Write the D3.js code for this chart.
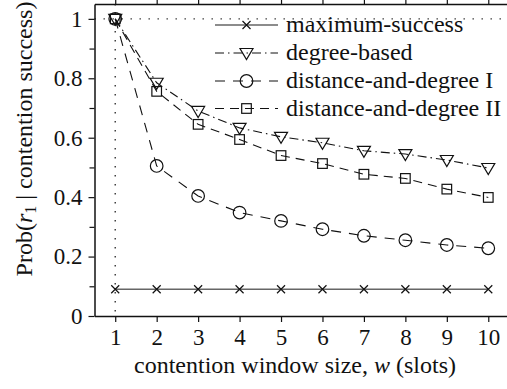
<!DOCTYPE html>
<html>
<head>
<meta charset="utf-8">
<script src="https://cdn.jsdelivr.net/npm/d3@7"></script>
<style>
  html, body { margin: 0; padding: 0; background: #fff; }
  svg { display: block; }
  text { font-family: "Liberation Serif", "Times New Roman", serif; fill: #111; }
</style>
</head>
<body>
<svg id="chart" width="507" height="389"></svg>
<script>
// ---- data ----
const windowSizes = [1, 2, 3, 4, 5, 6, 7, 8, 9, 10];
const maximumSuccess = [0.09, 0.09, 0.09, 0.09, 0.09, 0.09, 0.09, 0.09, 0.09, 0.09];
const degreeBased = [1.0, 0.785, 0.69, 0.633, 0.603, 0.583, 0.556, 0.545, 0.525, 0.498];
const distanceDegreeI = [1.0, 0.505, 0.404, 0.348, 0.32, 0.292, 0.27, 0.255, 0.239, 0.228];
const distanceDegreeII = [1.0, 0.756, 0.645, 0.594, 0.54, 0.513, 0.477, 0.463, 0.427, 0.399];
const seriesNames = ["maximum-success", "degree-based", "distance-and-degree I", "distance-and-degree II"];
const yTickValues = [0, 0.2, 0.4, 0.6, 0.8, 1];
const yMinorTickValues = [0.1, 0.3, 0.5, 0.7, 0.9];
const xTickValues = [1, 2, 3, 4, 5, 6, 7, 8, 9, 10];

const series = [
  { name: seriesNames[0], values: maximumSuccess, marker: "cross", dash: null, stroke: "#666", width: 1.6 },
  { name: seriesNames[1], values: degreeBased, marker: "triangle", dash: "9,4,1.5,4", stroke: "#111", width: 1.1 },
  { name: seriesNames[2], values: distanceDegreeI, marker: "circle", dash: "10,8", stroke: "#111", width: 1.1 },
  { name: seriesNames[3], values: distanceDegreeII, marker: "square", dash: "9,6", stroke: "#111", width: 1.1 }
];

const svg = d3.select("#chart");
const mLeft = 94.5, mRight = 509, mTop = 4, mBottom = 316;

const x = d3.scaleLinear().domain([0.5, 10.5]).range([mLeft, mRight]);
const y = d3.scaleLinear().domain([0, 1.05]).range([mBottom, mTop]);

// reference dotted lines
const g = svg.append("g");
g.append("line")
  .attr("x1", x(1)).attr("x2", x(1)).attr("y1", y(1.05)).attr("y2", y(0))
  .attr("stroke", "#333").attr("stroke-width", 1.4).attr("stroke-dasharray", "1.4,7.6");
g.append("line")
  .attr("x1", x(0.5)).attr("x2", x(10.5)).attr("y1", y(1)).attr("y2", y(1))
  .attr("stroke", "#333").attr("stroke-width", 1.4).attr("stroke-dasharray", "1.4,7.6");

// axes
const fontSize = 24;
const tickFont = 23;
const yAxis = d3.axisLeft(y).tickValues(yTickValues).tickSize(6).tickSizeOuter(0).tickPadding(6)
  .tickFormat(d => d === 0 ? "0" : d === 1 ? "1" : d3.format(".1f")(d));
const gy = svg.append("g").attr("transform", `translate(${mLeft},0)`).call(yAxis);
const yMinor = d3.axisLeft(y).tickValues(yMinorTickValues).tickSize(5).tickSizeOuter(0).tickFormat("");
const gym = svg.append("g").attr("transform", `translate(${mLeft},0)`).call(yMinor);
gym.select(".domain").remove();

const xAxis = d3.axisBottom(x).tickValues(xTickValues).tickSize(6).tickSizeOuter(0).tickPadding(7)
  .tickFormat(d3.format("d"));
const gx = svg.append("g").attr("transform", `translate(0,${mBottom})`).call(xAxis);

const xTop = d3.axisTop(x).tickValues(xTickValues).tickSize(4).tickSizeOuter(0).tickFormat("");
const gt = svg.append("g").attr("transform", `translate(0,${mTop})`).call(xTop);

[gy, gym, gx, gt].forEach(a => {
  a.selectAll(".domain").attr("stroke", "#111").attr("stroke-width", 1.5);
  a.selectAll(".tick line").attr("stroke", "#111").attr("stroke-width", 1.2);
  a.selectAll("text").style("font-family", '"Liberation Serif", serif').style("font-size", tickFont + "px").attr("fill", "#111");
});

// lines
const line = d3.line().x((d, i) => x(windowSizes[i])).y(d => y(d));
series.forEach(s => {
  svg.append("path")
    .datum(s.values)
    .attr("d", line)
    .attr("fill", "none")
    .attr("stroke", s.stroke)
    .attr("stroke-width", s.width)
    .attr("stroke-dasharray", s.dash);
});

// markers
function drawMarker(sel, type, cx, cy) {
  if (type === "circle") {
    sel.append("circle").attr("cx", cx).attr("cy", cy).attr("r", 6.3)
      .attr("fill", "none").attr("stroke", "#111").attr("stroke-width", 1.2);
  } else if (type === "square") {
    sel.append("rect").attr("x", cx - 4.8).attr("y", cy - 4.8).attr("width", 9.6).attr("height", 9.6)
      .attr("fill", "none").attr("stroke", "#111").attr("stroke-width", 1.2);
  } else if (type === "triangle") {
    sel.append("path").attr("d", `M${cx - 6.5},${cy - 4.5}L${cx + 6.5},${cy - 4.5}L${cx},${cy + 6.5}Z`)
      .attr("fill", "none").attr("stroke", "#111").attr("stroke-width", 1.2);
  } else if (type === "cross") {
    sel.append("path").attr("d", `M${cx - 4},${cy - 4}L${cx + 4},${cy + 4}M${cx - 4},${cy + 4}L${cx + 4},${cy - 4}`)
      .attr("fill", "none").attr("stroke", "#111").attr("stroke-width", 1.2);
  }
}
series.forEach(s => {
  const mg = svg.append("g");
  s.values.forEach((v, i) => drawMarker(mg, s.marker, x(windowSizes[i]), y(v)));
});

// legend
const legendRows = [25, 53, 81, 108.5];
const lg = svg.append("g");
series.forEach((s, i) => {
  const ly = legendRows[i];
  lg.append("line").attr("x1", 215).attr("x2", 278).attr("y1", ly).attr("y2", ly)
    .attr("stroke", s.stroke).attr("stroke-width", s.width).attr("stroke-dasharray", s.dash);
  drawMarker(lg, s.marker, 246.5, ly);
  lg.append("text").attr("x", 286).attr("y", ly).attr("dy", "0.3em")
    .style("font-size", fontSize + "px").text(s.name);
});

// axis titles
svg.append("text")
  .attr("x", 295).attr("y", 373)
  .attr("text-anchor", "middle")
  .style("font-size", fontSize + "px")
  .call(t => {
    t.append("tspan").text("contention window size, ");
    t.append("tspan").style("font-style", "italic").text("w");
    t.append("tspan").text(" (slots)");
  });

svg.append("text")
  .attr("transform", "translate(32,139) rotate(-90)")
  .attr("text-anchor", "middle")
  .style("font-size", fontSize + "px")
  .call(t => {
    t.append("tspan").text("Prob(");
    t.append("tspan").style("font-style", "italic").text("r");
    t.append("tspan").attr("dy", 4).style("font-size", "16px").text("1");
    t.append("tspan").attr("dy", -4).text(" | contention success)");
  });
</script>
</body>
</html>
